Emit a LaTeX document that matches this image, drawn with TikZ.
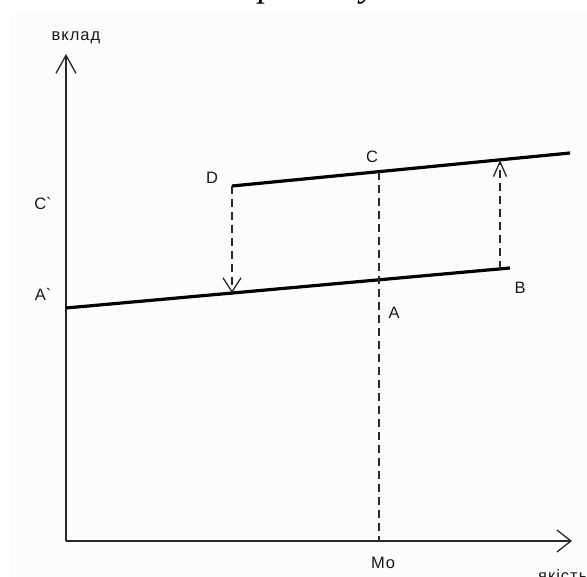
\documentclass[tikz,border=0pt]{standalone}
\usepackage{fontspec}
\newfontfamily\labfont{Liberation Sans}[LetterSpace=6]
\newfontfamily\titlefont{Liberation Serif}
\usetikzlibrary{arrows.meta}
\definecolor{axiscol}{HTML}{282828}
\definecolor{bgcol}{HTML}{FCFCFC}
\tikzset{
  axis/.style={draw=axiscol, line width=1.7pt},
  mainline/.style={draw=black, line width=3.2pt},
  guide/.style={draw=axiscol, line width=1.5pt, dash pattern=on 8pt off 5pt},
  lab/.style={font=\labfont\fontsize{16.5}{18}\selectfont, inner sep=0pt, text=black!90},
}
\begin{document}
\begin{tikzpicture}[x=1pt,y=-1pt]
\useasboundingbox (0,0) rectangle (587,577);
\fill[bgcol] (10,10) rectangle (587,577);
% title fragment (cut at the top)
\node[anchor=base, inner sep=0pt, font=\titlefont\itshape\fontsize{36}{40}\selectfont] (title) at (304,-3) {персоналу.};
% points
\coordinate (O) at (66,541);
\coordinate (Ytop) at (66,54);
\coordinate (Xend) at (572,541);
\coordinate (Astart) at (66,308);
\coordinate (Bend) at (510,268);
\coordinate (Dpt) at (232,186);
\coordinate (Uend) at (570,153);
\coordinate (Cpt) at (379,171.6);
\coordinate (Apt) at (379,279.8);
\coordinate (Mo) at (379,541);
\coordinate (Dlow) at (232,293);
\coordinate (Bpt) at (500,268.9);
\coordinate (Bup) at (500,160);
% axes
\draw[axis, -{Straight Barb[length=18pt,width=20pt,line width=1.3pt]}] (O) -- (Ytop);
\draw[axis, -{Straight Barb[length=14pt,width=22pt,line width=1.3pt]}] (O) -- (Xend);
% lines
\draw[mainline] (Astart) -- (Bend);
\draw[mainline] (Dpt) -- (Uend);
% dashed guides
\draw[guide, -{Straight Barb[length=14pt,width=18pt,line width=1.3pt]}] (Dpt) -- (Dlow);
\draw[guide] (Cpt) -- (Mo);
\draw[guide, -{Straight Barb[length=15pt,width=13pt,line width=1.3pt]}] (Bpt) -- (Bup);
% labels
\node[lab] (lvklad) at (76,38) {вклад};
\node[lab] (lCp) at (43,204) {C\textasciigrave};
\node[lab] (lAp) at (43,294) {A\textasciigrave};
\node[lab] (lD) at (212,178) {D};
\node[lab] (lC) at (372,157) {C};
\node[lab] (lA) at (394,313) {A};
\node[lab] (lB) at (520,288) {B};
\node[lab] (lMo) at (383,563) {Mo};
\node[lab, anchor=base west] (lyak) at (538,581) {якість};
\end{tikzpicture}
\end{document}
